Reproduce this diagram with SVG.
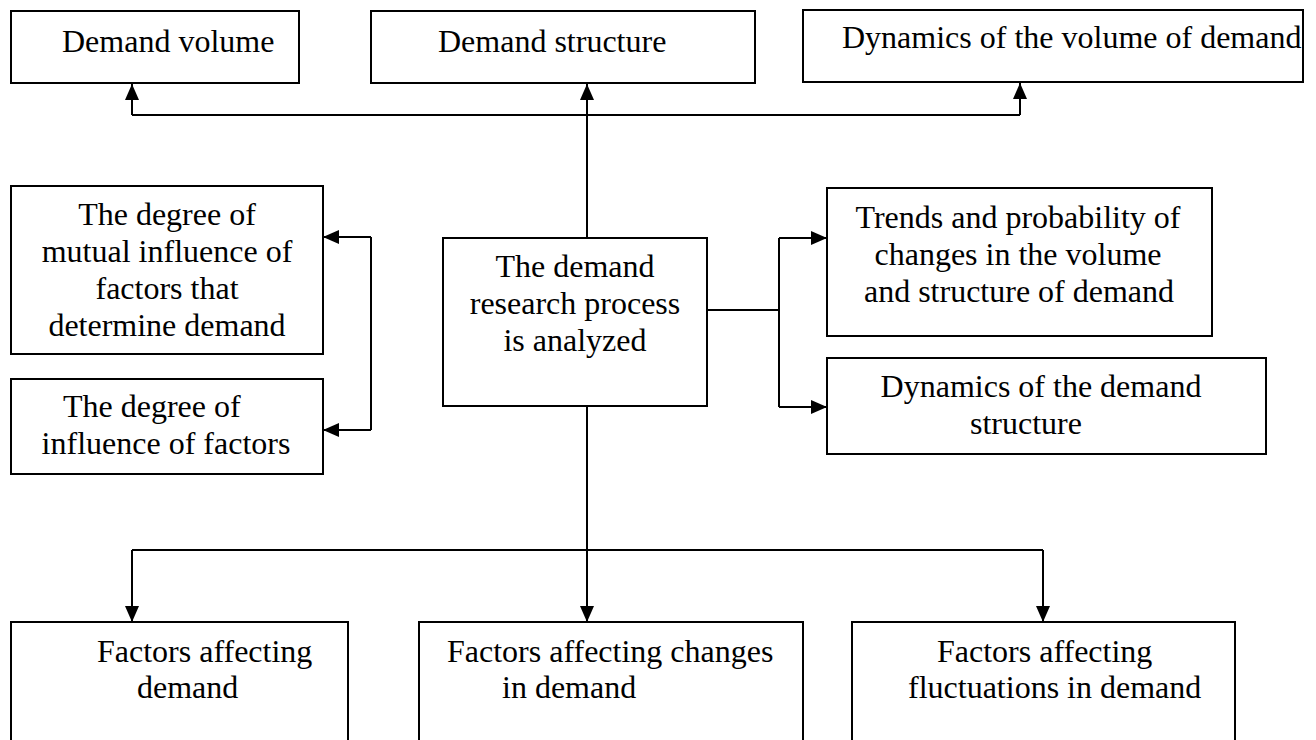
<svg xmlns="http://www.w3.org/2000/svg" width="1316" height="740" viewBox="0 0 1316 740">
  <style>
    .box { fill: #ffffff; stroke: #000000; stroke-width: 2; }
    .lbl { font-family: "Liberation Serif", "Times New Roman", serif; font-size: 32px; fill: #000000; }
    .mid { text-anchor: middle; }
    .wire { fill: none; stroke: #000000; stroke-width: 2; }
    .arrow { marker-end: url(#head); }
  </style>
  <defs>
    <marker id="head" markerUnits="userSpaceOnUse" markerWidth="16" markerHeight="14" refX="16" refY="7" orient="auto">
      <path d="M0,0 L16,7 L0,14 z" fill="#000000"/>
    </marker>
  </defs>
  <rect width="1316" height="740" fill="#ffffff"/>

  <!-- connectors -->
  <g id="connectors">
    <!-- upward fan to the three top boxes -->
    <path class="wire arrow" d="M587,238 V84"/>
    <path class="wire" d="M132,115 H1020"/>
    <path class="wire arrow" d="M132,115 V84"/>
    <path class="wire arrow" d="M1020,115 V83"/>
    <!-- downward fan to the three bottom boxes -->
    <path class="wire arrow" d="M587,406 V622"/>
    <path class="wire" d="M132,550 H1043"/>
    <path class="wire arrow" d="M132,550 V622"/>
    <path class="wire arrow" d="M1043,550 V622"/>
    <!-- right branch -->
    <path class="wire" d="M707,310 H779 M779,238 V407"/>
    <path class="wire arrow" d="M779,238 H827"/>
    <path class="wire arrow" d="M779,407 H827"/>
    <!-- left bracket -->
    <path class="wire" d="M371,237 V430"/>
    <path class="wire arrow" d="M371,237 H323"/>
    <path class="wire arrow" d="M371,430 H323"/>
  </g>

  <g id="demand-volume">
    <rect class="box" x="11" y="11" width="288" height="72"/>
    <text class="lbl" x="62" y="52">Demand volume</text>
  </g>
  <g id="demand-structure">
    <rect class="box" x="371" y="11" width="384" height="72"/>
    <text class="lbl" x="438" y="52">Demand structure</text>
  </g>
  <g id="volume-dynamics">
    <rect class="box" x="803" y="10" width="500" height="72"/>
    <text class="lbl" x="842" y="48">Dynamics of the volume of demand</text>
  </g>

  <g id="mutual-influence">
    <rect class="box" x="11" y="186" width="312" height="168"/>
    <text class="lbl mid" x="167" y="225">The degree of</text>
    <text class="lbl mid" x="167" y="262">mutual influence of</text>
    <text class="lbl mid" x="167" y="299">factors that</text>
    <text class="lbl mid" x="167" y="336">determine demand</text>
  </g>
  <g id="factor-influence">
    <rect class="box" x="11" y="379" width="312" height="95"/>
    <text class="lbl" x="63" y="417">The degree of</text>
    <text class="lbl mid" x="166" y="454">influence of factors</text>
  </g>

  <g id="research-process">
    <rect class="box" x="443" y="238" width="264" height="168"/>
    <text class="lbl mid" x="575" y="277">The demand</text>
    <text class="lbl mid" x="575" y="314">research process</text>
    <text class="lbl mid" x="575" y="351">is analyzed</text>
  </g>

  <g id="trends">
    <rect class="box" x="827" y="188" width="385" height="148"/>
    <text class="lbl mid" x="1018" y="228">Trends and probability of</text>
    <text class="lbl mid" x="1018" y="265">changes in the volume</text>
    <text class="lbl mid" x="1019" y="302">and structure of demand</text>
  </g>
  <g id="structure-dynamics">
    <rect class="box" x="827" y="358" width="439" height="96"/>
    <text class="lbl mid" x="1041" y="397">Dynamics of the demand</text>
    <text class="lbl mid" x="1026" y="434">structure</text>
  </g>

  <g id="factors-demand">
    <rect class="box" x="11" y="622" width="337" height="130"/>
    <text class="lbl" x="97" y="662">Factors affecting</text>
    <text class="lbl" x="137" y="698">demand</text>
  </g>
  <g id="factors-changes">
    <rect class="box" x="419" y="622" width="384" height="130"/>
    <text class="lbl" x="447" y="662">Factors affecting changes</text>
    <text class="lbl" x="502" y="698">in demand</text>
  </g>
  <g id="factors-fluctuations">
    <rect class="box" x="852" y="622" width="383" height="130"/>
    <text class="lbl" x="937" y="662">Factors affecting</text>
    <text class="lbl" x="908" y="698">fluctuations in demand</text>
  </g>
</svg>
